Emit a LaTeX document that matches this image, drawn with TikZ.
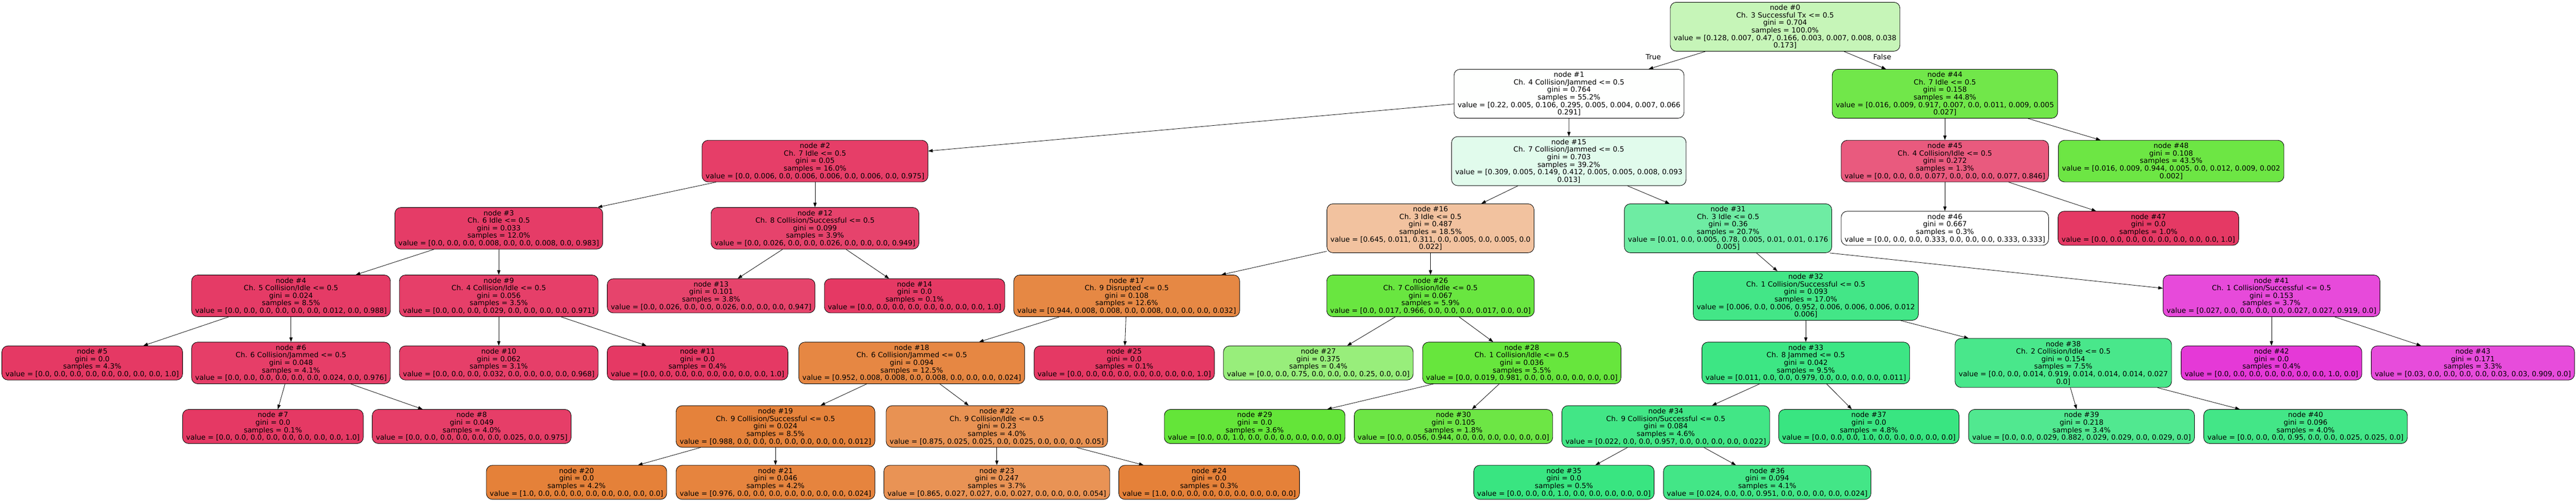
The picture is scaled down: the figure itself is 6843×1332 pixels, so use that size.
\documentclass[tikz,border=0pt]{standalone}
\usepackage{fontspec}
\setmainfont{DejaVu Sans}
\usetikzlibrary{arrows.meta}
\definecolor{cA}{RGB}{198,245,184}
\definecolor{cB}{RGB}{254,255,254}
\definecolor{c44}{RGB}{113,231,74}
\definecolor{c2}{RGB}{230,62,104}
\definecolor{c15}{RGB}{225,251,236}
\definecolor{c45}{RGB}{233,90,126}
\definecolor{c48}{RGB}{109,230,68}
\definecolor{c3}{RGB}{229,60,103}
\definecolor{c12}{RGB}{230,67,108}
\definecolor{c16}{RGB}{242,194,159}
\definecolor{c31}{RGB}{110,236,163}
\definecolor{cwhite}{RGB}{255,255,255}
\definecolor{crim}{RGB}{229,57,100}
\definecolor{c4}{RGB}{229,59,102}
\definecolor{c9}{RGB}{230,63,105}
\definecolor{c13}{RGB}{230,68,108}
\definecolor{c17}{RGB}{230,136,68}
\definecolor{c26}{RGB}{105,230,64}
\definecolor{c32}{RGB}{67,230,135}
\definecolor{c41}{RGB}{231,74,218}
\definecolor{c6}{RGB}{230,62,104}
\definecolor{c10}{RGB}{230,63,105}
\definecolor{c18}{RGB}{230,135,67}
\definecolor{c27}{RGB}{152,238,123}
\definecolor{c28}{RGB}{103,230,61}
\definecolor{c33}{RGB}{61,230,132}
\definecolor{c38}{RGB}{73,231,139}
\definecolor{c42}{RGB}{229,57,215}
\definecolor{c43}{RGB}{231,76,219}
\definecolor{c8}{RGB}{230,62,104}
\definecolor{c19}{RGB}{229,130,59}
\definecolor{c22}{RGB}{232,146,83}
\definecolor{c29}{RGB}{100,229,57}
\definecolor{c30}{RGB}{109,230,69}
\definecolor{c34}{RGB}{66,230,134}
\definecolor{c37}{RGB}{57,229,129}
\definecolor{c39}{RGB}{81,232,144}
\definecolor{c40}{RGB}{67,230,135}
\definecolor{c20}{RGB}{229,129,57}
\definecolor{c21}{RGB}{230,132,62}
\definecolor{c23}{RGB}{233,147,85}
\definecolor{c36}{RGB}{67,230,135}
\newcommand\dtfont{\fontsize{9.45pt}{10pt}\selectfont}
\newcommand\TN[6]{\node[tn,fill=#2,minimum width=#3pt,minimum height=#4pt] (#1) at #5 {#6};}
\tikzset{
  tn/.style={draw=black, line width=0.6pt, rounded corners=8pt, align=center, inner sep=0pt, font=\dtfont, text=black},
  edge/.style={draw=black, line width=0.55pt, -{Triangle[length=6pt,width=4.3pt]}},
  lbl/.style={font=\dtfont, text=black, inner sep=0pt}
}
\begin{document}
\begin{tikzpicture}[x=0.5pt,y=-0.5pt]
\fill[white] (0,0) rectangle (6843,1332);
\useasboundingbox (0,0) rectangle (6843,1332);
% row 0
\TN{n0}{cA}{305}{65}{(4742,71)}{node \#0\\Ch. 3 Successful Tx <= 0.5\\gini = 0.704\\samples = 100.0\%\\value = [0.128, 0.007, 0.47, 0.166, 0.003, 0.007, 0.008, 0.038\\0.173]}
% row 1
\TN{n1}{cB}{305.5}{65}{(4168,249)}{node \#1\\Ch. 4 Collision/Jammed <= 0.5\\gini = 0.764\\samples = 55.2\%\\value = [0.22, 0.005, 0.106, 0.295, 0.005, 0.004, 0.007, 0.066\\0.291]}
\TN{n44}{c44}{299.5}{65}{(5166.5,249)}{node \#44\\Ch. 7 Idle <= 0.5\\gini = 0.158\\samples = 44.8\%\\value = [0.016, 0.009, 0.917, 0.007, 0.0, 0.011, 0.009, 0.005\\0.027]}
% row 2
\TN{n2}{c2}{300}{55.25}{(2165,427.8)}{node \#2\\Ch. 7 Idle <= 0.5\\gini = 0.05\\samples = 16.0\%\\value = [0.0, 0.006, 0.0, 0.006, 0.006, 0.0, 0.006, 0.0, 0.975]}
\TN{n15}{c15}{311.5}{65}{(4167.5,427.8)}{node \#15\\Ch. 7 Collision/Jammed <= 0.5\\gini = 0.703\\samples = 39.2\%\\value = [0.309, 0.005, 0.149, 0.412, 0.005, 0.005, 0.008, 0.093\\0.013]}
\TN{n45}{c45}{275.5}{55.25}{(5166.5,427.8)}{node \#45\\Ch. 4 Collision/Idle <= 0.5\\gini = 0.272\\samples = 1.3\%\\value = [0.0, 0.0, 0.0, 0.077, 0.0, 0.0, 0.0, 0.077, 0.846]}
\TN{n48}{c48}{299.5}{55.25}{(5767.5,427.8)}{node \#48\\gini = 0.108\\samples = 43.5\%\\value = [0.016, 0.009, 0.944, 0.005, 0.0, 0.012, 0.009, 0.002\\0.002]}
% row 3
\TN{n3}{c3}{276}{55.25}{(1325,606.2)}{node \#3\\Ch. 6 Idle <= 0.5\\gini = 0.033\\samples = 12.0\%\\value = [0.0, 0.0, 0.0, 0.008, 0.0, 0.0, 0.008, 0.0, 0.983]}
\TN{n12}{c12}{276}{55.25}{(2165,606.2)}{node \#12\\Ch. 8 Collision/Successful <= 0.5\\gini = 0.099\\samples = 3.9\%\\value = [0.0, 0.026, 0.0, 0.0, 0.026, 0.0, 0.0, 0.0, 0.949]}
\TN{n16}{c16}{275}{65}{(3800,606.2)}{node \#16\\Ch. 3 Idle <= 0.5\\gini = 0.487\\samples = 18.5\%\\value = [0.645, 0.011, 0.311, 0.0, 0.005, 0.0, 0.005, 0.0\\0.022]}
\TN{n31}{c31}{275.5}{65}{(4590.5,606.2)}{node \#31\\Ch. 3 Idle <= 0.5\\gini = 0.36\\samples = 20.7\%\\value = [0.01, 0.0, 0.005, 0.78, 0.005, 0.01, 0.01, 0.176\\0.005]}
\TN{n46}{cwhite}{275.5}{45.25}{(5166.5,606.2)}{node \#46\\gini = 0.667\\samples = 0.3\%\\value = [0.0, 0.0, 0.0, 0.333, 0.0, 0.0, 0.0, 0.333, 0.333]}
\TN{n47}{crim}{240}{45.25}{(5707,606.2)}{node \#47\\gini = 0.0\\samples = 1.0\%\\value = [0.0, 0.0, 0.0, 0.0, 0.0, 0.0, 0.0, 0.0, 1.0]}
% row 4
\TN{n4}{c4}{264}{55.25}{(773,785.5)}{node \#4\\Ch. 5 Collision/Idle <= 0.5\\gini = 0.024\\samples = 8.5\%\\value = [0.0, 0.0, 0.0, 0.0, 0.0, 0.0, 0.012, 0.0, 0.988]}
\TN{n9}{c9}{264}{55.25}{(1325,785.5)}{node \#9\\Ch. 4 Collision/Idle <= 0.5\\gini = 0.056\\samples = 3.5\%\\value = [0.0, 0.0, 0.0, 0.029, 0.0, 0.0, 0.0, 0.0, 0.971]}
\TN{n13}{c13}{276}{45.25}{(1889,785.5)}{node \#13\\gini = 0.101\\samples = 3.8\%\\value = [0.0, 0.026, 0.0, 0.0, 0.026, 0.0, 0.0, 0.0, 0.947]}
\TN{n14}{crim}{239.5}{45.25}{(2429.5,785.5)}{node \#14\\gini = 0.0\\samples = 0.1\%\\value = [0.0, 0.0, 0.0, 0.0, 0.0, 0.0, 0.0, 0.0, 1.0]}
\TN{n17}{c17}{300}{55.25}{(2993,785.5)}{node \#17\\Ch. 9 Disrupted <= 0.5\\gini = 0.108\\samples = 12.6\%\\value = [0.944, 0.008, 0.008, 0.0, 0.008, 0.0, 0.0, 0.0, 0.032]}
\TN{n26}{c26}{275.5}{55.25}{(3800,785.5)}{node \#26\\Ch. 7 Collision/Idle <= 0.5\\gini = 0.067\\samples = 5.9\%\\value = [0.0, 0.017, 0.966, 0.0, 0.0, 0.0, 0.017, 0.0, 0.0]}
\TN{n32}{c32}{299}{65}{(4797,785.5)}{node \#32\\Ch. 1 Collision/Successful <= 0.5\\gini = 0.093\\samples = 17.0\%\\value = [0.006, 0.0, 0.006, 0.952, 0.006, 0.006, 0.006, 0.012\\0.006]}
\TN{n41}{c41}{288}{55.25}{(6034,785.5)}{node \#41\\Ch. 1 Collision/Successful <= 0.5\\gini = 0.153\\samples = 3.7\%\\value = [0.027, 0.0, 0.0, 0.0, 0.0, 0.027, 0.027, 0.919, 0.0]}
% row 5
\TN{n5}{crim}{240}{45.25}{(245,963.8)}{node \#5\\gini = 0.0\\samples = 4.3\%\\value = [0.0, 0.0, 0.0, 0.0, 0.0, 0.0, 0.0, 0.0, 1.0]}
\TN{n6}{c6}{264}{55.25}{(773,963.8)}{node \#6\\Ch. 6 Collision/Jammed <= 0.5\\gini = 0.048\\samples = 4.1\%\\value = [0.0, 0.0, 0.0, 0.0, 0.0, 0.0, 0.024, 0.0, 0.976]}
\TN{n10}{c10}{264}{45.25}{(1325,963.8)}{node \#10\\gini = 0.062\\samples = 3.1\%\\value = [0.0, 0.0, 0.0, 0.032, 0.0, 0.0, 0.0, 0.0, 0.968]}
\TN{n11}{crim}{240}{45.25}{(1853,963.8)}{node \#11\\gini = 0.0\\samples = 0.4\%\\value = [0.0, 0.0, 0.0, 0.0, 0.0, 0.0, 0.0, 0.0, 1.0]}
\TN{n18}{c18}{300}{55.25}{(2422,963.8)}{node \#18\\Ch. 6 Collision/Jammed <= 0.5\\gini = 0.094\\samples = 12.5\%\\value = [0.952, 0.008, 0.008, 0.0, 0.008, 0.0, 0.0, 0.0, 0.024]}
\TN{n25}{crim}{239.5}{45.25}{(2986.5,963.8)}{node \#25\\gini = 0.0\\samples = 0.1\%\\value = [0.0, 0.0, 0.0, 0.0, 0.0, 0.0, 0.0, 0.0, 1.0]}
\TN{n27}{c27}{252}{45.25}{(3502,963.8)}{node \#27\\gini = 0.375\\samples = 0.4\%\\value = [0.0, 0.0, 0.75, 0.0, 0.0, 0.0, 0.25, 0.0, 0.0]}
\TN{n28}{c28}{263.5}{55.25}{(4042.5,963.8)}{node \#28\\Ch. 1 Collision/Idle <= 0.5\\gini = 0.036\\samples = 5.5\%\\value = [0.0, 0.019, 0.981, 0.0, 0.0, 0.0, 0.0, 0.0, 0.0]}
\TN{n33}{c33}{276}{55.25}{(4797,963.8)}{node \#33\\Ch. 8 Jammed <= 0.5\\gini = 0.042\\samples = 9.5\%\\value = [0.011, 0.0, 0.0, 0.979, 0.0, 0.0, 0.0, 0.0, 0.011]}
\TN{n38}{c38}{287.5}{65}{(5481,963.8)}{node \#38\\Ch. 2 Collision/Idle <= 0.5\\gini = 0.154\\samples = 7.5\%\\value = [0.0, 0.0, 0.014, 0.919, 0.014, 0.014, 0.014, 0.027\\0.0]}
\TN{n42}{c42}{240}{45.25}{(6034,963.8)}{node \#42\\gini = 0.0\\samples = 0.4\%\\value = [0.0, 0.0, 0.0, 0.0, 0.0, 0.0, 0.0, 1.0, 0.0]}
\TN{n43}{c43}{270}{45.25}{(6569,963.8)}{node \#43\\gini = 0.171\\samples = 3.3\%\\value = [0.03, 0.0, 0.0, 0.0, 0.0, 0.03, 0.03, 0.909, 0.0]}
% row 6
\TN{n7}{crim}{240}{45.25}{(725,1132.5)}{node \#7\\gini = 0.0\\samples = 0.1\%\\value = [0.0, 0.0, 0.0, 0.0, 0.0, 0.0, 0.0, 0.0, 1.0]}
\TN{n8}{c8}{264}{45.25}{(1253,1132.5)}{node \#8\\gini = 0.049\\samples = 4.0\%\\value = [0.0, 0.0, 0.0, 0.0, 0.0, 0.0, 0.025, 0.0, 0.975]}
\TN{n19}{c19}{264}{55.25}{(2060,1132.5)}{node \#19\\Ch. 9 Collision/Successful <= 0.5\\gini = 0.024\\samples = 8.5\%\\value = [0.988, 0.0, 0.0, 0.0, 0.0, 0.0, 0.0, 0.0, 0.012]}
\TN{n22}{c22}{294}{55.25}{(2648,1132.5)}{node \#22\\Ch. 9 Collision/Idle <= 0.5\\gini = 0.23\\samples = 4.0\%\\value = [0.875, 0.025, 0.025, 0.0, 0.025, 0.0, 0.0, 0.0, 0.05]}
\TN{n29}{c29}{240}{45.25}{(3333,1132.5)}{node \#29\\gini = 0.0\\samples = 3.6\%\\value = [0.0, 0.0, 1.0, 0.0, 0.0, 0.0, 0.0, 0.0, 0.0]}
\TN{n30}{c30}{263.5}{45.25}{(3861,1132.5)}{node \#30\\gini = 0.105\\samples = 1.8\%\\value = [0.0, 0.056, 0.944, 0.0, 0.0, 0.0, 0.0, 0.0, 0.0]}
\TN{n34}{c34}{276}{55.25}{(4425,1132.5)}{node \#34\\Ch. 9 Collision/Successful <= 0.5\\gini = 0.084\\samples = 4.6\%\\value = [0.022, 0.0, 0.0, 0.957, 0.0, 0.0, 0.0, 0.0, 0.022]}
\TN{n37}{c37}{239.5}{45.25}{(4964.5,1132.5)}{node \#37\\gini = 0.0\\samples = 4.8\%\\value = [0.0, 0.0, 0.0, 1.0, 0.0, 0.0, 0.0, 0.0, 0.0]}
\TN{n39}{c39}{300}{45.25}{(5529.5,1132.5)}{node \#39\\gini = 0.218\\samples = 3.4\%\\value = [0.0, 0.0, 0.029, 0.882, 0.029, 0.029, 0.0, 0.029, 0.0]}
\TN{n40}{c40}{270.5}{45.25}{(6124.5,1132.5)}{node \#40\\gini = 0.096\\samples = 4.0\%\\value = [0.0, 0.0, 0.0, 0.95, 0.0, 0.0, 0.025, 0.025, 0.0]}
% row 7
\TN{n20}{c20}{239.5}{45.25}{(1531.5,1280.8)}{node \#20\\gini = 0.0\\samples = 4.2\%\\value = [1.0, 0.0, 0.0, 0.0, 0.0, 0.0, 0.0, 0.0, 0.0]}
\TN{n21}{c21}{264}{45.25}{(2060,1280.8)}{node \#21\\gini = 0.046\\samples = 4.2\%\\value = [0.976, 0.0, 0.0, 0.0, 0.0, 0.0, 0.0, 0.0, 0.024]}
\TN{n23}{c23}{300}{45.25}{(2648,1280.8)}{node \#23\\gini = 0.247\\samples = 3.7\%\\value = [0.865, 0.027, 0.027, 0.0, 0.027, 0.0, 0.0, 0.0, 0.054]}
\TN{n24}{c20}{240}{45.25}{(3212,1280.8)}{node \#24\\gini = 0.0\\samples = 0.3\%\\value = [1.0, 0.0, 0.0, 0.0, 0.0, 0.0, 0.0, 0.0, 0.0]}
\TN{n35}{c37}{239.5}{45.25}{(4154.5,1280.8)}{node \#35\\gini = 0.0\\samples = 0.5\%\\value = [0.0, 0.0, 0.0, 1.0, 0.0, 0.0, 0.0, 0.0, 0.0]}
\TN{n36}{c36}{275.5}{45.25}{(4694.5,1280.8)}{node \#36\\gini = 0.094\\samples = 4.1\%\\value = [0.024, 0.0, 0.0, 0.951, 0.0, 0.0, 0.0, 0.0, 0.024]}
% edges
\draw[edge] (n0) -- (n1);
\draw[edge] (n0) -- (n44);
\draw[edge] (n1) -- (n2);
\draw[edge] (n1) -- (n15);
\draw[edge] (n2) -- (n3);
\draw[edge] (n2) -- (n12);
\draw[edge] (n3) -- (n4);
\draw[edge] (n3) -- (n9);
\draw[edge] (n4) -- (n5);
\draw[edge] (n4) -- (n6);
\draw[edge] (n6) -- (n7);
\draw[edge] (n6) -- (n8);
\draw[edge] (n9) -- (n10);
\draw[edge] (n9) -- (n11);
\draw[edge] (n12) -- (n13);
\draw[edge] (n12) -- (n14);
\draw[edge] (n15) -- (n16);
\draw[edge] (n15) -- (n31);
\draw[edge] (n16) -- (n17);
\draw[edge] (n16) -- (n26);
\draw[edge] (n17) -- (n18);
\draw[edge] (n17) -- (n25);
\draw[edge] (n18) -- (n19);
\draw[edge] (n18) -- (n22);
\draw[edge] (n19) -- (n20);
\draw[edge] (n19) -- (n21);
\draw[edge] (n22) -- (n23);
\draw[edge] (n22) -- (n24);
\draw[edge] (n26) -- (n27);
\draw[edge] (n26) -- (n28);
\draw[edge] (n28) -- (n29);
\draw[edge] (n28) -- (n30);
\draw[edge] (n31) -- (n32);
\draw[edge] ([xshift=-3pt]n31.south east) -- ([yshift=10pt]n41.west);
\draw[edge] (n32) -- (n33);
\draw[edge] (n32) -- (n38);
\draw[edge] (n33) -- (n34);
\draw[edge] (n33) -- (n37);
\draw[edge] (n34) -- (n35);
\draw[edge] (n34) -- (n36);
\draw[edge] (n38) -- (n39);
\draw[edge] (n38) -- (n40);
\draw[edge] (n41) -- (n42);
\draw[edge] (n41) -- (n43);
\draw[edge] (n44) -- (n45);
\draw[edge] (n44) -- (n48);
\draw[edge] (n45) -- (n46);
\draw[edge] (n45) -- (n47);
% edge labels
\node[lbl] (tTrue) at (4392,152) {True};
\node[lbl] (tFalse) at (5000,151) {False};
\end{tikzpicture}
\end{document}
